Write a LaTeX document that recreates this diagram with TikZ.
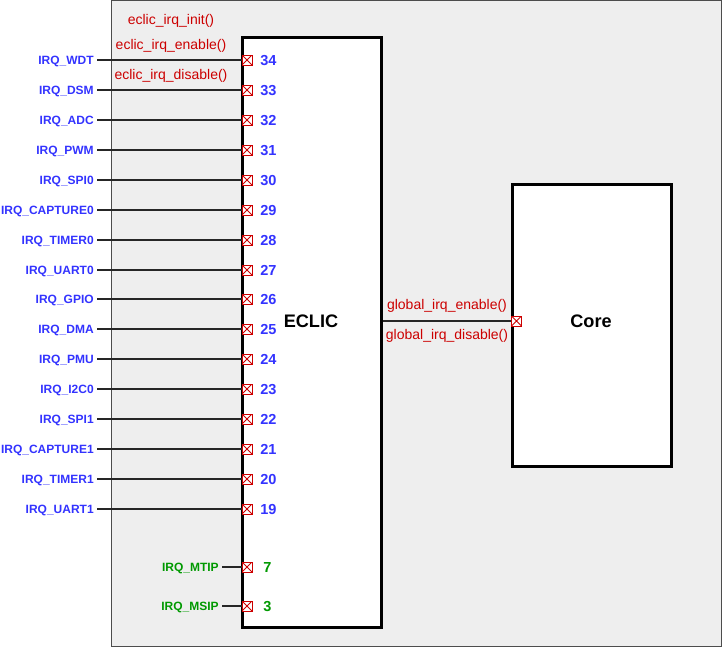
\documentclass[tikz,border=0pt]{standalone}
\usepackage{fontspec}
\setmainfont{Liberation Sans}
\begin{document}
\begin{tikzpicture}[x=0.75pt,y=-0.75pt,
  lbl/.style={font=\fontsize{9}{10}\selectfont\bfseries,anchor=east,inner xsep=2.25pt,inner ysep=0pt,yshift=-0.9pt},
  bluetxt/.style={lbl,text=irqblue},
  greentxt/.style={lbl,text=irqgreen},
  num/.style={font=\fontsize{10.9}{12}\selectfont\bfseries,anchor=west,inner xsep=0pt,inner ysep=0pt,yshift=-0.6pt},
  bluenum/.style={num,text=irqblue},
  greennum/.style={num,text=irqgreen},
  redtxt/.style={text=fnred,font=\fontsize{10.5}{12}\selectfont,inner sep=0pt},
  marker/.style={draw=fnred,line width=0.75pt,minimum size=7.5pt,inner sep=0pt,fill=white,
    path picture={\draw[fnred,line width=0.6pt] (path picture bounding box.north west) -- (path picture bounding box.south east)
      (path picture bounding box.north east) -- (path picture bounding box.south west);}},
  wire/.style={draw=black!85,line width=1.5pt},
  block/.style={draw=black,line width=2.25pt,fill=white},
  big/.style={font=\fontsize{13.6}{15}\selectfont\bfseries},
]
\definecolor{irqblue}{RGB}{51,51,255}
\definecolor{irqgreen}{RGB}{0,153,0}
\definecolor{fnred}{RGB}{204,0,0}
\definecolor{bggrey}{RGB}{238,238,238}
\useasboundingbox (0,0) rectangle (722,647);
% background
\draw[fill=bggrey,draw=black!70,line width=0.75pt] (111.5,0) rectangle (721.5,646.5);
% blocks
\node[block,minimum width=104.25pt,minimum height=442.5pt,anchor=north west] (eclic) at (241,36) {};
\node[big] (eclictxt) at (311,321) {ECLIC};
\node[block,minimum width=119.25pt,minimum height=211.5pt,anchor=north west] (core) at (511,183) {};
\node[big] (coretxt) at (591,321) {Core};
% red function texts
\node[redtxt] (finit) at (171,21) {eclic\_irq\_init()};
\node[redtxt] (fen) at (171,46) {eclic\_irq\_enable()};
\node[redtxt] (fdis) at (171,76) {eclic\_irq\_disable()};
\node[redtxt] (gen) at (447,306) {global\_irq\_enable()};
\node[redtxt] (gdis) at (447,336) {global\_irq\_disable()};
% IRQ lines
\foreach \n/\lab/\y in {34/IRQ\_WDT/60,33/IRQ\_DSM/90,32/IRQ\_ADC/120,31/IRQ\_PWM/150,30/IRQ\_SPI0/180,
  29/IRQ\_CAPTURE0/210,28/IRQ\_TIMER0/240,27/IRQ\_UART0/270,26/IRQ\_GPIO/299,25/IRQ\_DMA/329,
  24/IRQ\_PMU/359,23/IRQ\_I2C0/389,22/IRQ\_SPI1/419,21/IRQ\_CAPTURE1/449,20/IRQ\_TIMER1/479,19/IRQ\_UART1/509}{
  \node[bluetxt] (l\n) at (97,\y) {\lab};
  \node[marker] (m\n) at (247,\y) {};
  \node[bluenum] (n\n) at (260,\y) {\n};
  \draw[wire] (l\n.east |- m\n) -- (m\n.west);
}
\foreach \n/\lab/\y in {7/IRQ\_MTIP/567,3/IRQ\_MSIP/606}{
  \node[greentxt] (l\n) at (222,\y) {\lab};
  \node[marker] (m\n) at (247,\y) {};
  \node[greennum] (n\n) at (263,\y) {\n};
  \draw[wire] (l\n.east |- m\n) -- (m\n.west);
}
% core link
\node[marker] (mc) at (516.5,321) {};
\draw[wire] (eclic.east |- mc) -- (mc.west);
\end{tikzpicture}
\end{document}
